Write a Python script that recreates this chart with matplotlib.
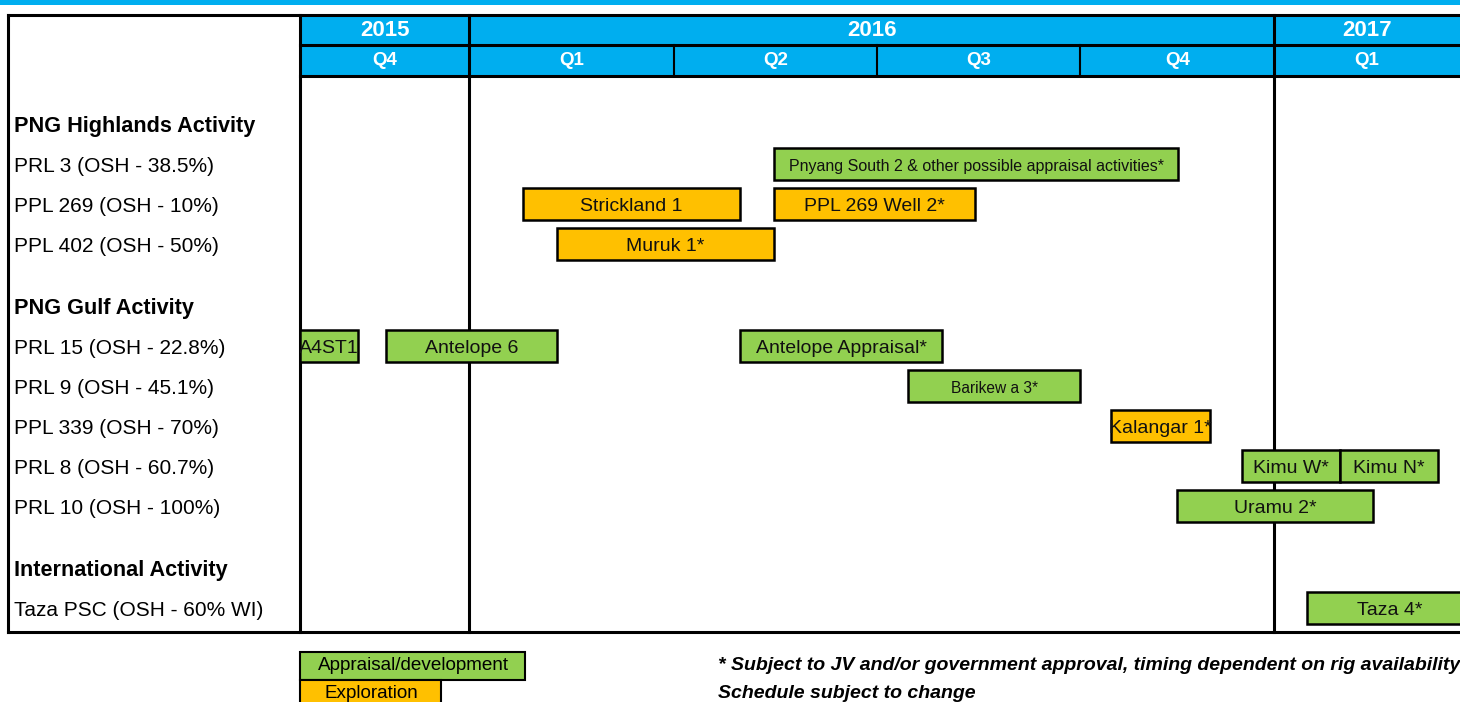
import matplotlib.pyplot as plt
from matplotlib.patches import Rectangle
from matplotlib.lines import Line2D
from matplotlib.transforms import blended_transform_factory

plt.rcParams['font.family'] = ['Liberation Sans', 'DejaVu Sans']

BLUE = '#00AEEF'
GREEN = '#92D050'
ORANGE = '#FFC000'

# time axis: months counted from 1 Jan 2016
years = ['2015', '2016', '2017']
year_edges = [-2.52, 0, 12, 14.77]
quarters = ['Q4', 'Q1', 'Q2', 'Q3', 'Q4', 'Q1']
quarter_edges = [-2.52, 0, 3.05, 6.08, 9.11, 12, 14.77]

# left column rows (section headers are bold)
rows = ['PNG Highlands Activity', 'PRL 3 (OSH - 38.5%)', 'PPL 269 (OSH - 10%)',
        'PPL 402 (OSH - 50%)', 'PNG Gulf Activity', 'PRL 15 (OSH - 22.8%)',
        'PRL 9 (OSH - 45.1%)', 'PPL 339 (OSH - 70%)', 'PRL 8 (OSH - 60.7%)',
        'PRL 10 (OSH - 100%)', 'International Activity', 'Taza PSC (OSH - 60% WI)']
sections = ['PNG Highlands Activity', 'PNG Gulf Activity', 'International Activity']

# activities: name, row, start month, end month, type
tasks = ['Pnyang South 2 & other possible appraisal activities*', 'Strickland 1',
         'PPL 269 Well 2*', 'Muruk 1*', 'A4ST1', 'Antelope 6', 'Antelope Appraisal*',
         'Barikew a 3*', 'Kalangar 1*', 'Kimu W*', 'Kimu N*', 'Uramu 2*', 'Taza 4*']
task_rows = ['PRL 3 (OSH - 38.5%)', 'PPL 269 (OSH - 10%)', 'PPL 269 (OSH - 10%)',
             'PPL 402 (OSH - 50%)', 'PRL 15 (OSH - 22.8%)', 'PRL 15 (OSH - 22.8%)',
             'PRL 15 (OSH - 22.8%)', 'PRL 9 (OSH - 45.1%)', 'PPL 339 (OSH - 70%)',
             'PRL 8 (OSH - 60.7%)', 'PRL 8 (OSH - 60.7%)', 'PRL 10 (OSH - 100%)',
             'Taza PSC (OSH - 60% WI)']
task_start = [4.55, 0.80, 4.55, 1.31, -2.52, -1.24, 4.04, 6.54, 9.57, 11.52, 12.98, 10.55, 12.49]
task_end = [10.57, 4.04, 7.54, 4.55, -1.66, 1.31, 7.05, 9.11, 11.05, 12.98, 14.44, 13.48, 14.96]
task_type = ['app', 'exp', 'exp', 'exp', 'app', 'app', 'app', 'app', 'exp', 'app', 'app', 'app', 'app']

type_colors = {'app': GREEN, 'exp': ORANGE}
small_text = {'Pnyang South 2 & other possible appraisal activities*': 11.5,
              'Barikew a 3*': 11.2}

# row positions: one unit per row, extra gap before each new section
row_pos = {}
p = 0.0
for i, r in enumerate(rows):
    if r in sections and i > 0:
        p += 0.55
    row_pos[r] = p
    p += 1

W, H = 1460, 702
fig = plt.figure(figsize=(W / 100, H / 100), dpi=100)
ax = fig.add_axes([300 / W, (H - 632) / H, 1160 / W, 617 / H])
ax.set_xlim(year_edges[0], year_edges[-1])
ax.set_ylim(12.7, -2.725)
ax.axis('off')

tx = blended_transform_factory(ax.transData, ax.transAxes)

# header bands
yr_lo, q_lo = 1 - 30 / 617, 1 - 61 / 617
ax.add_patch(Rectangle((year_edges[0], q_lo), year_edges[-1] - year_edges[0], 1 - q_lo,
                       transform=tx, facecolor=BLUE, edgecolor='none', clip_on=False))
for i, y in enumerate(years):
    ax.text((year_edges[i] + year_edges[i + 1]) / 2, (1 + yr_lo) / 2, y, transform=tx,
            ha='center', va='center', color='white', fontsize=16, fontweight='bold')
for i, q in enumerate(quarters):
    ax.text((quarter_edges[i] + quarter_edges[i + 1]) / 2, (yr_lo + q_lo) / 2, q,
            transform=tx, ha='center', va='center', color='white', fontsize=13.5,
            fontweight='bold')
for x in quarter_edges[1:-1]:
    if x not in year_edges:
        ax.plot([x, x], [q_lo, yr_lo], transform=tx, color='black', lw=1.5, clip_on=False)
for x in year_edges[:-1]:
    ax.plot([x, x], [0, 1], transform=tx, color='black', lw=2.2, clip_on=False, zorder=1)
ax.plot([year_edges[0], year_edges[-1]], [yr_lo, yr_lo], transform=tx, color='black', lw=2.2, clip_on=False)
ax.plot([year_edges[0], year_edges[-1]], [q_lo, q_lo], transform=tx, color='black', lw=2.2, clip_on=False)

# bars
for name, r, s, e, t in zip(tasks, task_rows, task_start, task_end, task_type):
    y = row_pos[r]
    ax.barh(y, e - s, left=s, height=0.78, color=type_colors[t], edgecolor='black',
            linewidth=1.8, zorder=3)
    ax.text((s + e) / 2, y + 0.07, name, ha='center', va='center', color='#111111',
            fontsize=small_text.get(name, 14), zorder=4, clip_on=True)

# left labels
lt = blended_transform_factory(fig.transFigure, ax.transData)
for r in rows:
    bold = r in sections
    ax.text(14 / W, row_pos[r] + 0.06, r, transform=lt, ha='left', va='center',
            fontsize=15.6 if bold else 15, fontweight='bold' if bold else 'normal')

# outer frame and top band
def fline(x0, y0, x1, y1, lw=2.2):
    fig.add_artist(Line2D([x0 / W, x1 / W], [1 - y0 / H, 1 - y1 / H], color='black', lw=lw))

fline(8, 15, W, 15)
fline(8, 632, W, 632)
fline(8, 15, 8, 632)
fig.add_artist(Rectangle((0, 1 - 5 / H), 1, 5 / H, transform=fig.transFigure,
                         facecolor=BLUE, edgecolor='none'))

# legend
fig.add_artist(Rectangle((300 / W, 1 - 680 / H), 225 / W, 28 / H, transform=fig.transFigure,
                         facecolor=GREEN, edgecolor='black', lw=1.5))
fig.add_artist(Rectangle((300 / W, 1 - 706 / H), 141 / W, 26 / H, transform=fig.transFigure,
                         facecolor=ORANGE, edgecolor='black', lw=1.5))
fig.text(413 / W, 1 - 666 / H, 'Appraisal/development', ha='center', va='center', fontsize=13.6)
fig.text(371 / W, 1 - 693 / H, 'Exploration', ha='center', va='center', fontsize=13.6)

fig.text(718 / W, 1 - 666 / H,
         '* Subject to JV and/or government approval, timing dependent on rig availability',
         ha='left', va='center', fontsize=14, fontweight='bold', fontstyle='italic')
fig.text(718 / W, 1 - 693 / H, 'Schedule subject to change',
         ha='left', va='center', fontsize=14, fontweight='bold', fontstyle='italic')

fig.savefig('out.png', dpi=100)
